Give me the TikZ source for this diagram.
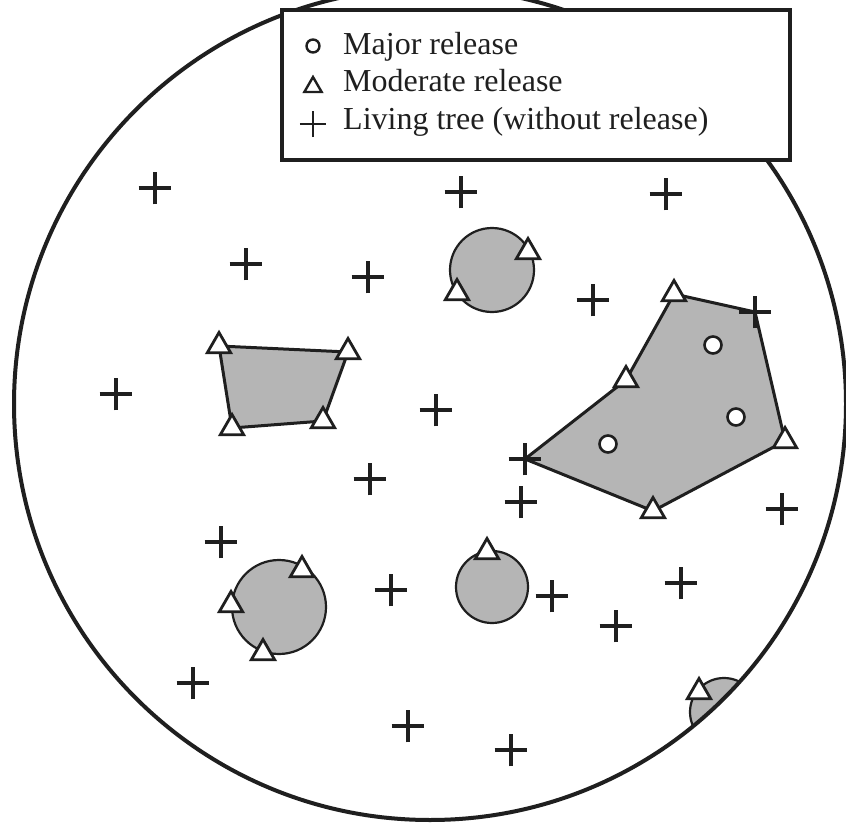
\documentclass[tikz,border=0pt]{standalone}
\usepackage{fontspec}
\setmainfont{Liberation Serif}
\usetikzlibrary{shapes.misc,shapes.geometric}
\definecolor{shade}{gray}{0.71}
\definecolor{ink}{gray}{0.12}
\tikzset{
  plusmark/.style={cross out, draw=ink, line width=3.2pt, minimum size=20pt, inner sep=0pt, rotate=45},
  legplus/.style={cross out, draw=ink, line width=2.6pt, minimum size=16pt, inner sep=0pt, rotate=45},
  trimark/.style={regular polygon, regular polygon sides=3, draw=ink, fill=white, line width=2.8pt, minimum size=27pt, inner sep=0pt},
  legtri/.style={regular polygon, regular polygon sides=3, draw=ink, fill=white, line width=2.4pt, minimum size=20pt, inner sep=0pt},
  majormark/.style={circle, draw=ink, fill=white, line width=2.6pt, minimum size=17pt, inner sep=0pt},
  legmajor/.style={circle, draw=ink, fill=white, line width=2.4pt, minimum size=13pt, inner sep=0pt},
  gap/.style={circle, draw=ink, fill=shade, line width=2.2pt, inner sep=0pt},
  gappoly/.style={draw=ink, fill=shade, line width=3pt, line join=round},
  legendbox/.style={draw=ink, fill=white, line width=4pt},
  legendtext/.style={anchor=base west, font=\fontsize{32}{38}\selectfont, text=ink, inner sep=0pt},
}
\begin{document}
\begin{tikzpicture}[x=1pt,y=-1pt]
\useasboundingbox (0,0) rectangle (846,824);
\clip (0,0) rectangle (846,824);
\fill[white] (0,0) rectangle (846,824);

% canopy gaps (circles)
\node[gap, minimum size=84pt] (g1) at (492,270) {};
\node[gap, minimum size=94pt] (g2) at (279,607) {};
\node[gap, minimum size=72pt] (g3) at (492,587) {};
\begin{scope}
  \clip (430,404) circle[radius=416pt];
  \node[gap, minimum size=68pt] (g4) at (724,712) {};
\end{scope}

% plot boundary
\node[circle, draw=ink, line width=4pt, minimum size=832pt, inner sep=0pt] (plot) at (430,404) {};

% left gap polygon
\coordinate (q1) at (219,346);
\coordinate (q2) at (348,352);
\coordinate (q3) at (323,421);
\coordinate (q4) at (232,428);
\draw[gappoly] (q1) -- (q2) -- (q3) -- (q4) -- cycle;

% right gap polygon
\coordinate (p1) at (674,294);
\coordinate (p2) at (755,312);
\coordinate (p3) at (785,441);
\coordinate (p4) at (653,511);
\coordinate (p5) at (525,459);
\coordinate (p6) at (626,380);
\draw[gappoly] (p1) -- (p2) -- (p3) -- (p4) -- (p5) -- (p6) -- cycle;

% major release trees
\node[majormark] (m1) at (713,345) {};
\node[majormark] (m2) at (736,417) {};
\node[majormark] (m3) at (608,444) {};

% moderate release trees
\node[trimark] (tq1) at (q1) {};
\node[trimark] (tq2) at (q2) {};
\node[trimark] (tq3) at (q3) {};
\node[trimark] (tq4) at (q4) {};
\node[trimark] (tp1) at (p1) {};
\node[trimark] (tp3) at (p3) {};
\node[trimark] (tp4) at (p4) {};
\node[trimark] (tp6) at (p6) {};
\node[trimark] (t1) at (528,252) {};
\node[trimark] (t2) at (457,293) {};
\node[trimark] (t3) at (302,570) {};
\node[trimark] (t4) at (231,605) {};
\node[trimark] (t5) at (263,653) {};
\node[trimark] (t6) at (487,552) {};
\node[trimark] (t7) at (699,692) {};

% living trees
\node[plusmark] (pp2) at (p2) {};
\node[plusmark] (pp5) at (p5) {};
\foreach \px/\py [count=\i] in {155/188, 461/192, 666/194, 246/264, 368/277, 593/300,
  116/394, 436/410, 370/479, 521/502, 782/509, 221/542, 391/590, 552/596,
  681/583, 616/626, 193/683, 408/726, 511/750}
  \node[plusmark] (plus\i) at (\px,\py) {};

% legend
\draw[legendbox] (282,10) rectangle (790,160);
\node[legmajor] (lm) at (313,46) {};
\node[legtri] (lt) at (313,87) {};
\node[legplus] (lp) at (313,124) {};
\node[legendtext] (l1) at (343,55) {Major release};
\node[legendtext] (l2) at (343,92) {Moderate release};
\node[legendtext] (l3) at (343,130) {Living tree (without release)};
\end{tikzpicture}
\end{document}
